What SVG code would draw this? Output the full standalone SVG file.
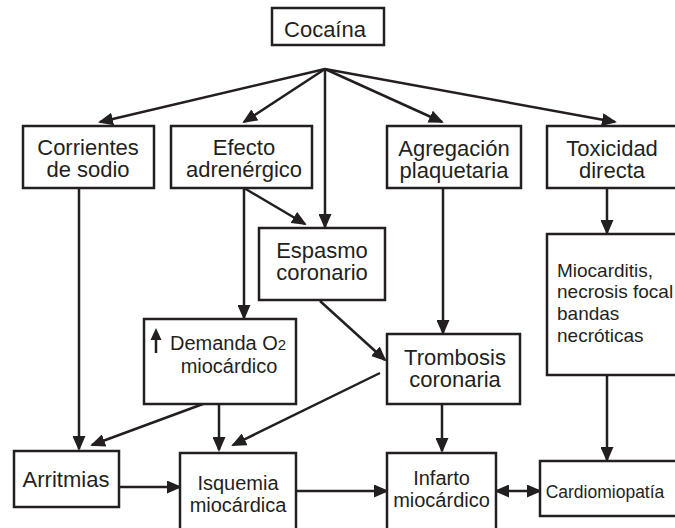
<svg xmlns="http://www.w3.org/2000/svg" width="675" height="528" viewBox="0 0 675 528">
<style>
.box{fill:#fff;stroke:#231f20;stroke-width:2.5}
.t{font-family:"Liberation Sans",Arial,Helvetica,sans-serif;fill:#231f20;text-anchor:middle}
.s{text-anchor:start}
.l{stroke:#231f20;stroke-width:2.5;fill:none}
</style>
<defs>
<marker id="ah" markerUnits="userSpaceOnUse" markerWidth="15" markerHeight="13" refX="13" refY="6.5" orient="auto">
<path d="M0,0 L15,6.5 L0,13 z" fill="#231f20"/>
</marker>
<marker id="ahs" markerUnits="userSpaceOnUse" markerWidth="15" markerHeight="13" refX="13" refY="6.5" orient="auto-start-reverse">
<path d="M0,0 L15,6.5 L0,13 z" fill="#231f20"/>
</marker>
</defs>
<rect width="675" height="528" fill="#fff"/>
<g id="connectors" class="l" marker-end="url(#ah)">
<line x1="325" y1="69" x2="100" y2="122"/>
<line x1="325" y1="69" x2="244" y2="122"/>
<line x1="325" y1="69" x2="325" y2="227"/>
<line x1="325" y1="69" x2="442" y2="122"/>
<line x1="325" y1="69" x2="615" y2="122"/>
<line x1="244" y1="188" x2="305" y2="224"/>
<line x1="244" y1="188" x2="244" y2="318"/>
<line x1="79" y1="188" x2="79" y2="449"/>
<line x1="320" y1="301" x2="385" y2="360"/>
<line x1="443" y1="188" x2="443" y2="333"/>
<line x1="607" y1="188" x2="607" y2="233"/>
<line x1="203" y1="404" x2="92" y2="445"/>
<line x1="219" y1="404" x2="219" y2="450"/>
<line x1="380" y1="373" x2="233" y2="445"/>
<line x1="119" y1="487" x2="180" y2="487"/>
<line x1="442" y1="404" x2="442" y2="451"/>
<line x1="296" y1="491" x2="387" y2="491"/>
<line x1="496" y1="491" x2="540" y2="491" marker-start="url(#ahs)"/>
<line x1="607" y1="375" x2="607" y2="460"/>
</g>
<g id="cocaina">
<rect class="box" x="272" y="8" width="112" height="37"/>
<text class="t" x="325" y="37" font-size="22">Cocaína</text>
</g>
<g id="corrientes">
<rect class="box" x="23" y="126" width="131" height="62"/>
<text class="t" x="88" y="155" font-size="22">Corrientes</text>
<text class="t" x="88" y="177" font-size="22">de sodio</text>
</g>
<g id="efecto">
<rect class="box" x="171" y="126" width="141" height="62"/>
<text class="t" x="244" y="155" font-size="22">Efecto</text>
<text class="t" x="244" y="177" font-size="22">adrenérgico</text>
</g>
<g id="agregacion">
<rect class="box" x="387" y="126" width="134" height="62"/>
<text class="t" x="454" y="156" font-size="22">Agregación</text>
<text class="t" x="454" y="178" font-size="22">plaquetaria</text>
</g>
<g id="toxicidad">
<rect class="box" x="547" y="126" width="140" height="62"/>
<text class="t" x="612" y="156" font-size="22">Toxicidad</text>
<text class="t" x="612" y="178" font-size="22">directa</text>
</g>
<g id="espasmo">
<rect class="box" x="259" y="228" width="126" height="72"/>
<text class="t" x="322" y="258" font-size="22">Espasmo</text>
<text class="t" x="322" y="280" font-size="22">coronario</text>
</g>
<g id="demanda">
<rect class="box" x="144" y="319" width="152" height="85"/>
<line class="l" x1="156" y1="353" x2="156" y2="336"/>
<path d="M150.5,340 L156,328 L161.5,340 z" fill="#231f20"/>
<text class="t s" x="170" y="350" font-size="20">Demanda O<tspan font-size="15">2</tspan></text>
<text class="t" x="229" y="373" font-size="20">miocárdico</text>
</g>
<g id="miocarditis">
<rect class="box" x="547" y="234" width="140" height="141"/>
<text class="t s" x="557" y="277" font-size="19">Miocarditis,</text>
<text class="t s" x="557" y="298" font-size="19">necrosis focal</text>
<text class="t s" x="557" y="320" font-size="19">bandas</text>
<text class="t s" x="557" y="342" font-size="19">necróticas</text>
</g>
<g id="trombosis">
<rect class="box" x="387" y="334" width="133" height="70"/>
<text class="t" x="455" y="365" font-size="22">Trombosis</text>
<text class="t" x="455" y="387" font-size="22">coronaria</text>
</g>
<g id="arritmias">
<rect class="box" x="14" y="451" width="105" height="56"/>
<text class="t" x="66" y="487" font-size="22">Arritmias</text>
</g>
<g id="isquemia">
<rect class="box" x="180" y="453" width="116" height="90"/>
<text class="t" x="238" y="490" font-size="20">Isquemia</text>
<text class="t" x="238" y="512" font-size="20">miocárdica</text>
</g>
<g id="infarto">
<rect class="box" x="387" y="453" width="109" height="90"/>
<text class="t" x="441.5" y="485" font-size="20">Infarto</text>
<text class="t" x="441.5" y="507" font-size="20">miocárdico</text>
</g>
<g id="cardiomiopatia">
<rect class="box" x="540" y="461" width="147" height="55"/>
<text class="t" x="605" y="498" font-size="17.5">Cardiomiopatía</text>
</g>
</svg>
